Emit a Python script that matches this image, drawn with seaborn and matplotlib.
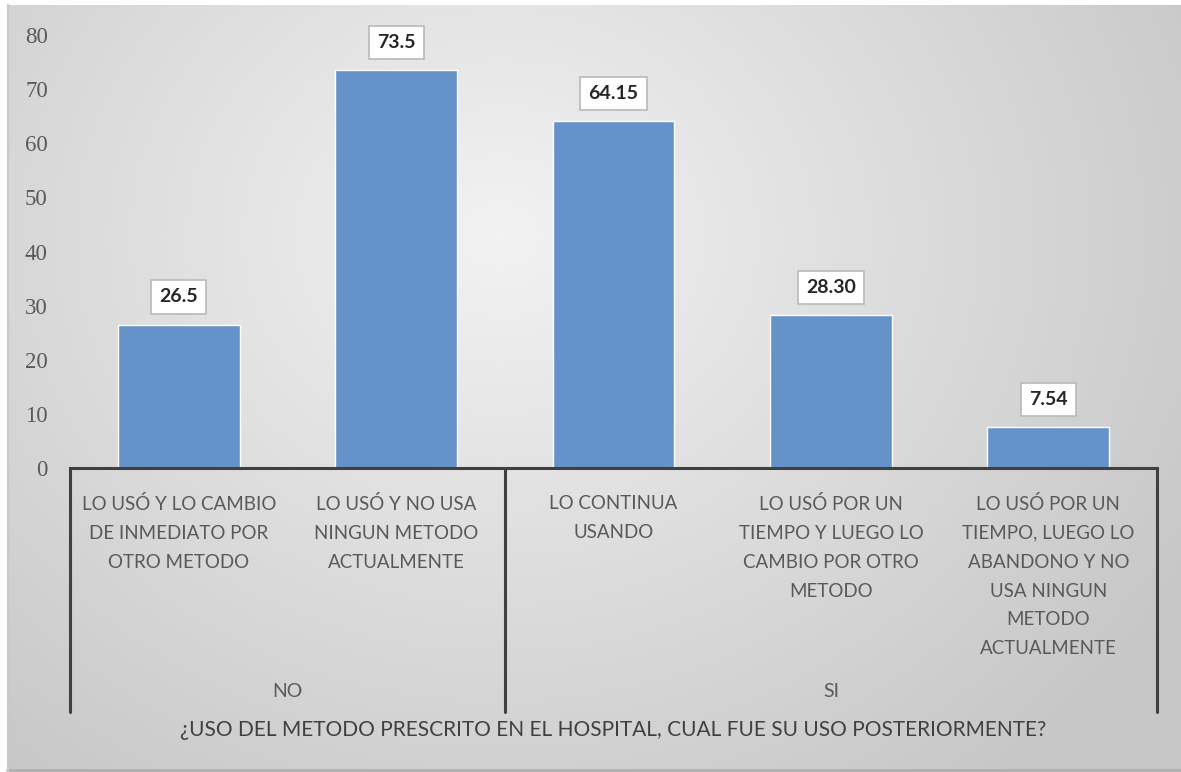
import matplotlib
matplotlib.use("Agg")
import matplotlib.pyplot as plt
import matplotlib.transforms as mtransforms
import numpy as np
import pandas as pd
import seaborn as sns

categories = [
    "LO USÓ Y LO CAMBIO\nDE INMEDIATO POR\nOTRO METODO",
    "LO USÓ Y NO USA\nNINGUN METODO\nACTUALMENTE",
    "LO CONTINUA\nUSANDO",
    "LO USÓ POR UN\nTIEMPO Y LUEGO LO\nCAMBIO POR OTRO\nMETODO",
    "LO USÓ POR UN\nTIEMPO, LUEGO LO\nABANDONO Y NO\nUSA NINGUN\nMETODO\nACTUALMENTE",
]
values = [26.5, 73.5, 64.15, 28.30, 7.54]
value_labels = ["26.5", "73.5", "64.15", "28.30", "7.54"]
groups = ["NO", "SI"]
group_centers = [0.5, 3.0]
group_edges = [-0.5, 1.5, 4.5]
axis_title = "¿USO DEL METODO PRESCRITO EN EL HOSPITAL, CUAL FUE SU USO POSTERIORMENTE?"
yticks = [0, 10, 20, 30, 40, 50, 60, 70, 80]

sns.set_style("white")
plt.rcParams['font.family'] = ['Lato', 'DejaVu Sans']

W, H = 1181, 772
fig = plt.figure(figsize=(W / 100, H / 100), dpi=100)
fig.patch.set_facecolor("white")

# background gradient like the Excel chart area
bg = fig.add_axes([7 / W, 0, 1 - 7 / W, 1 - 5 / H])
gx, gy = np.meshgrid(np.linspace(0, 1, 300), np.linspace(0, 1, 200))
d = np.sqrt(((gx - 0.42) / 0.6) ** 2 + ((gy - 0.3) / 0.8) ** 2)
shade = np.clip(0.95 - 0.15 * d, 0.78, 1)
bg.imshow(np.dstack([shade] * 3), aspect="auto", extent=[0, 1, 1, 0])
bg.set_axis_off()
bg.plot([0, 1], [0.002, 0.002], color="#b0b0b0", lw=2, transform=bg.transAxes, clip_on=False)
bg.plot([0.001, 0.001], [0, 1], color="#c8c8c8", lw=1.5, transform=bg.transAxes, clip_on=False)

left, right, top, bottom = 70, 1157, 35, 468
ax = fig.add_axes([left / W, 1 - bottom / H, (right - left) / W, (bottom - top) / H])
ax.patch.set_alpha(0)

df = pd.DataFrame({"cat": categories, "val": values})
sns.barplot(data=df, x="cat", y="val", color="#6592c8", saturation=1, width=0.56, ax=ax)

ax.set_ylim(0, 80)
ax.set_xlim(-0.5, 4.5)
ax.set_yticks(yticks)
ax.set_yticklabels([str(t) for t in yticks], family="Liberation Serif", fontsize=16.5, color="#595959")
ax.tick_params(axis="y", length=0, pad=16)
ax.set_xticks([])
ax.set_xlabel("")
ax.set_ylabel("")
for s in ["left", "right", "top"]:
    ax.spines[s].set_visible(False)
ax.spines["bottom"].set_color("#404040")
ax.spines["bottom"].set_linewidth(2.2)

for i, (v, lab) in enumerate(zip(values, value_labels)):
    ax.text(i, v + 5.1, lab, ha="center", va="center", fontsize=14, fontweight="bold",
            color="#262626",
            bbox=dict(boxstyle="square,pad=0.42", fc="white", ec="#bdbdbd", lw=1.3))

trans = mtransforms.blended_transform_factory(ax.transData, ax.transAxes)
for i, cat in enumerate(categories):
    ax.text(i, -0.062, cat, transform=trans, ha="center", va="top", multialignment="center",
            fontsize=13.5, color="#595959", linespacing=1.85)

for xe in group_edges:
    ax.plot([xe, xe], [0, -0.5635], transform=trans, color="#404040", lw=2.2, clip_on=False)

for gc, g in zip(group_centers, groups):
    ax.text(gc, -0.517, g, transform=trans, ha="center", va="center", fontsize=14, color="#595959")

ax.text(0.5, -0.605, axis_title, transform=ax.transAxes, ha="center", va="center",
        fontsize=15, color="#404040")

fig.savefig("out.png", dpi=100)
